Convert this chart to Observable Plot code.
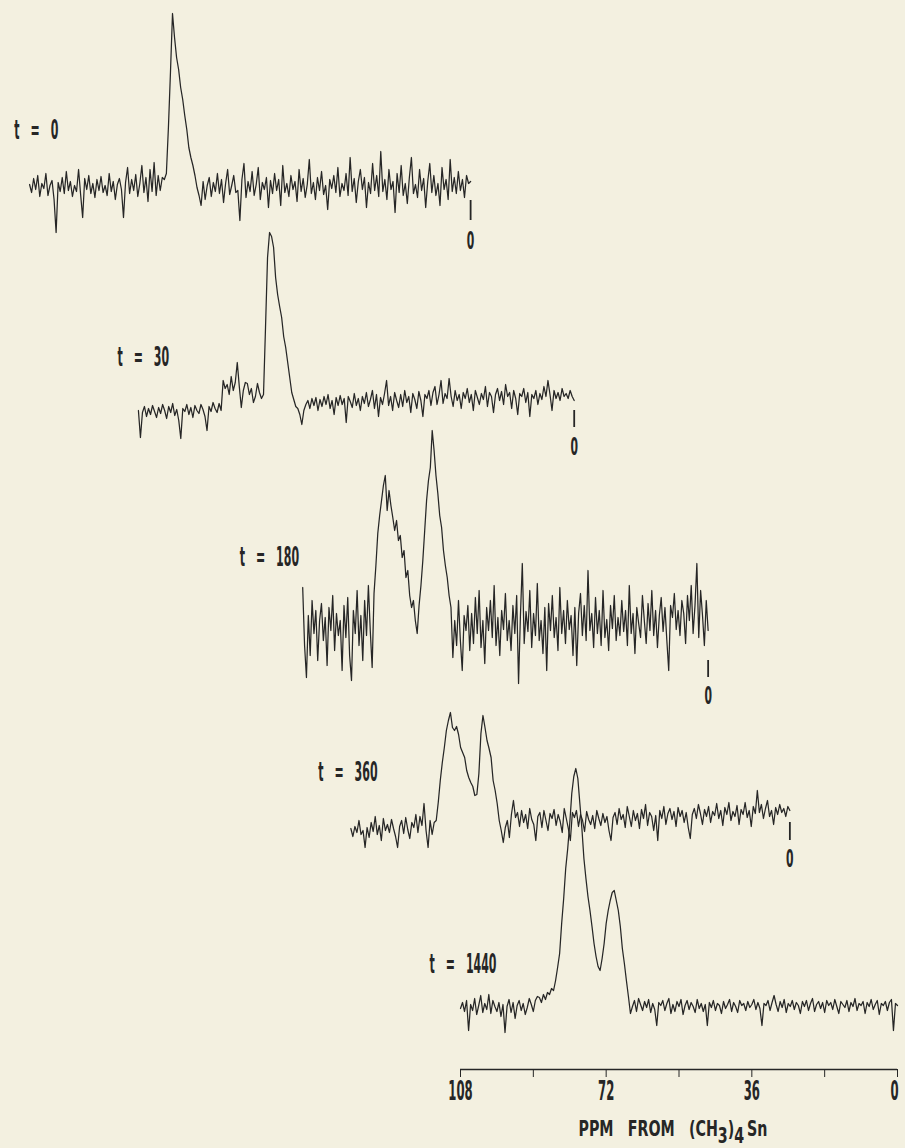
<!DOCTYPE html>
<html>
<head>
<meta charset="utf-8">
<script src="https://cdn.jsdelivr.net/npm/d3@7"></script>
<script src="https://cdn.jsdelivr.net/npm/@observablehq/plot@0.6"></script>
<style>
  html, body { margin: 0; padding: 0; background: #f3f0e0; }
  #chart svg { display: block; }
</style>
</head>
<body>
<div id="chart"></div>
<script>
// ---------------- DATA ----------------
// Spectrum labels (reaction time, minutes)
const timeLabels = ["t\u2003=\u20030", "t\u2003=\u200330", "t\u2003=\u2003180", "t\u2003=\u2003360", "t\u2003=\u20031440"];

// Intensities sampled every 0.5 ppm from 108 ppm down to 0 ppm (arbitrary units, baseline = 0)
const spec0 = [
  3,-5,9,-2,12,-9,4,-1,14,-8,
  2,7,-12,-45,5,-4,10,-6,16,-3,
  6,-9,2,-4,18,-7,-30,9,-2,12,
  -6,4,-10,8,-3,11,-5,2,-8,14,
  -4,6,-12,3,9,-2,-30,5,20,-6,
  8,-3,13,-9,4,22,-5,10,-14,18,
  -4,25,-8,12,-3,10,8,14,60,115,
  174,150,130,118,100,88,72,58,40,30,
  22,12,0,-8,-18,6,-12,2,10,-9,
  5,-4,14,-6,8,-15,4,18,-7,2,
  12,-5,-3,-33,8,24,-10,6,-4,16,
  -8,3,20,-12,5,-2,10,-20,7,-6,
  14,-3,8,-18,22,-5,4,-9,12,-2,
  6,-14,18,-4,9,-10,3,28,-6,5,
  -12,10,-3,16,-7,2,-22,8,-1,12,
  -5,20,-9,4,-3,14,-8,30,-4,9,
  -15,6,18,-2,10,-20,5,-6,24,-3,
  12,-9,36,-4,8,-12,18,-2,6,-25,
  14,-5,22,-8,4,-16,10,30,-6,3,
  -10,18,-3,9,-20,6,24,-5,12,-8,
  4,-18,20,-2,8,-12,28,-4,10,-6,
  16,-3,8,-10,12,4,6
];
const spec30 = [
  -8,-35,-10,-4,-14,-6,-12,-3,-9,-15,
  -5,-11,-2,-8,-16,-4,-10,-1,-13,-7,
  -18,-36,-6,-9,-2,-12,-5,-15,-3,-8,
  -11,-2,-7,-14,-28,-4,-9,0,-6,-10,
  -1,-8,22,14,18,8,26,12,20,40,
  16,-5,12,20,19,8,14,0,6,19,
  10,4,8,75,145,170,166,155,125,108,
  96,85,66,55,40,25,10,3,-4,-6,
  -12,-22,-8,-2,2,-6,4,-3,5,-8,
  3,-4,6,-2,8,-6,2,-12,5,-3,
  7,-2,4,-20,6,1,-5,9,-3,4,
  -8,6,-1,10,-4,3,12,-6,8,-14,
  5,-2,9,22,-3,6,-8,10,2,-5,
  8,-4,12,0,6,-10,9,3,-6,11,
  2,-14,8,4,12,-3,10,16,-2,8,
  22,-1,9,4,24,6,-4,12,2,8,
  -6,10,4,14,0,8,-8,12,5,-2,
  9,3,16,-4,10,6,-10,8,14,2,
  11,-2,18,6,10,-6,12,4,-12,9,
  6,14,0,10,-14,8,4,12,-2,9,
  3,16,6,22,8,-8,12,4,10,2,
  14,6,9,4,12,6,2
];
const spec180 = [
  38,-20,-52,10,-30,25,-8,15,-35,5,
  22,-15,8,-40,18,-5,30,-25,12,-10,
  5,-45,20,-12,28,-30,-55,15,-8,35,
  -20,10,-35,25,-10,40,-5,-42,32,60,
  92,110,125,140,150,115,135,120,108,95,
  105,85,90,68,75,48,55,30,18,25,
  5,-8,20,40,65,95,125,145,158,195,
  175,150,132,110,98,75,60,48,30,18,
  -32,5,-20,25,-15,-45,10,-5,20,-25,
  12,-18,28,-8,35,-22,5,-38,18,-5,
  25,-12,40,-20,8,-30,15,-4,32,-15,
  5,-25,20,-8,30,-58,10,62,-18,14,
  -6,35,-22,12,-10,42,-15,5,-28,18,
  -45,22,-5,30,-12,8,-25,38,-8,15,
  -18,25,-4,10,-30,18,-40,12,32,-10,
  20,-15,55,-5,12,-22,28,-8,15,-20,
  35,-12,6,-25,20,-3,30,-15,8,-10,
  25,-6,15,-20,40,-8,12,-28,18,2,
  -12,30,5,-18,22,-5,35,-10,15,-22,
  10,28,-6,18,-15,-45,20,8,32,-4,
  15,-10,25,12,-18,30,5,40,-8,20,
  62,-12,35,10,-20,25,-5
];
const spec360 = [
  -6,-14,-4,-10,2,-12,-8,-25,-5,-15,
  0,-9,6,-12,-3,-18,4,-8,-2,-10,
  3,-6,-14,-25,-4,2,-11,5,-7,-16,
  0,-5,8,-10,6,-3,19,-8,-25,2,
  -12,0,2,20,42,60,75,92,102,110,
  95,92,96,88,75,70,65,52,45,40,
  36,27,28,49,89,107,95,82,74,65,
  42,32,19,2,-8,-20,-5,2,-15,8,
  22,5,10,-4,12,0,8,-6,14,3,
  -2,-18,6,10,-5,12,2,-8,9,4,
  13,-3,8,1,-10,14,4,-6,-18,10,
  5,12,-4,8,2,-9,11,3,-2,7,
  -6,12,4,-3,9,0,6,-8,-18,5,
  10,-2,14,3,8,-5,16,6,-4,12,
  2,9,-6,13,4,18,-3,10,6,-8,
  7,-18,12,4,16,-2,9,14,3,11,
  -4,15,6,12,0,10,-5,-16,8,14,
  4,18,9,-2,13,6,16,0,11,7,
  19,4,12,-3,15,8,20,2,11,6,
  17,-2,13,8,20,5,12,-4,16,9,
  32,10,18,4,14,22,6,12,-2,15,
  8,18,10,14,6,16,12
];
const spec1440 = [
  0,6,-3,8,-22,4,-2,10,-6,3,
  13,-4,5,-1,14,-5,8,2,-3,6,
  -8,4,-24,2,9,-4,6,-10,3,8,
  -2,5,-6,1,10,4,-3,8,12,11,
  6,14,9,16,14,20,18,28,41,55,
  85,110,140,160,185,215,232,240,230,205,
  180,150,130,112,98,82,65,52,42,38,
  50,65,85,98,108,116,118,108,98,82,
  60,45,28,12,-5,2,8,-3,10,4,
  -2,7,1,9,-4,5,-1,-17,6,3,
  8,-2,5,10,-5,4,-3,7,2,9,
  -6,3,8,-1,6,2,-4,9,0,5,
  -3,4,-17,6,1,8,-2,5,3,-5,
  7,0,4,9,-3,6,2,-4,8,3,
  5,-2,7,1,4,9,-1,6,0,-17,
  5,3,8,-2,6,13,4,-3,7,1,
  9,-4,5,2,8,-1,6,3,-5,7,
  2,8,-2,5,10,-3,4,7,0,6,
  -4,8,3,6,-1,9,2,-5,7,4,
  1,8,-3,6,2,10,-2,5,3,7,
  -5,6,2,9,-1,4,8,-6,5,3,
  7,-2,6,9,-22,5,3
];
const spectra = [spec0, spec30, spec180, spec360, spec1440];

// Axis
const ppmHigh = 108, ppmLow = 0;
const axisTicks = [108, 90, 72, 54, 36, 18, 0];
const axisTickLabels = [108, 72, 36, 0];
const endMarkLabel = "0";
const axisTitleParts = ["PPM\u2002\u2002FROM\u2002\u2002(CH", "3", ")", "4", "\u2009Sn"];
const axisTitle = axisTitleParts.join("");

// ---------------- LAYOUT (stack offsets, in plot units) ----------------
const traceXStart = [214.5, 187.6, 147.0, 135.1, 108];   // where each trace's 108 ppm sits
const traceXEnd   = [105.5, 79.9, 46.8, 26.6, 0];        // where each trace's 0 ppm sits
const traceBase   = [882, 667, 444, 247, 61];            // baseline offsets
const labelX      = [207.4, 180.0, 147.9, 128.5, 99.1];
const labelY      = [939, 712, 512, 297, 105];
const markTop     = [-13, -8, -35, 0];
const markBottom  = [-33, -25, -52, -18];
const markLabelY  = [-53, -44, -70, -36];

// ---------------- BUILD ----------------
const W = 905, H = 1148, axisPx = 1069, x108Px = 460, x0Px = 897;
const pxPerPpm = (x0Px - x108Px) / (ppmHigh - ppmLow);

const points = [];
spectra.forEach((vals, j) => {
  const n = vals.length;
  vals.forEach((v, i) => {
    points.push({
      trace: j,
      x: traceXStart[j] + (traceXEnd[j] - traceXStart[j]) * i / (n - 1),
      y: traceBase[j] + v
    });
  });
});
const marks = markTop.map((t, j) => ({
  x: traceXEnd[j], y1: traceBase[j] + t, y2: traceBase[j] + markBottom[j], ly: traceBase[j] + markLabelY[j]
}));
const labels = timeLabels.map((t, j) => ({text: t, x: labelX[j], y: labelY[j]}));

const ink = "#262626";
const font = "'Liberation Sans Narrow', 'DejaVu Sans Condensed', 'DejaVu Sans', sans-serif";

const chart = Plot.plot({
  width: W,
  height: H,
  marginLeft: 0, marginRight: 0, marginTop: 0, marginBottom: H - axisPx,
  x: {domain: [ppmHigh + x108Px / pxPerPpm, ppmHigh - (W - x108Px) / pxPerPpm]},
  y: {domain: [0, axisPx], axis: null},
  style: {background: "#f3f0e0", color: ink, fontFamily: font, fontWeight: "bold", fontSize: "22px"},
  marks: [
    Plot.line(points, {x: "x", y: "y", z: "trace", stroke: ink, strokeWidth: 1.25, strokeLinejoin: "round"}),
    Plot.ruleX(marks, {x: "x", y1: "y1", y2: "y2", stroke: ink, strokeWidth: 1.8}),
    Plot.text(marks, {x: "x", y: "ly", text: () => endMarkLabel, fill: ink, fontSize: 25, fontWeight: "bold"}),
    Plot.text(labels, {x: "x", y: "y", text: "text", textAnchor: "end", fill: ink, fontSize: 26, fontWeight: "bold"}),
    Plot.ruleY([0], {x1: ppmHigh, x2: ppmLow, stroke: ink, strokeWidth: 1.6}),
    Plot.axisX(axisTicks, {
      anchor: "bottom", label: null, tickSize: 8, tickPadding: 3,
      tickFormat: d => axisTickLabels.includes(d) ? String(d) : "",
      fontSize: 27, fontWeight: "bold", stroke: ink, fill: ink
    }),
    Plot.text([axisTitle], {x: (ppmHigh + ppmLow) / 2 + 1.5, y: -59, fill: ink, fontSize: 22, fontWeight: "bold"})
  ]
});

document.getElementById("chart").appendChild(chart);

// Axis title: real lowered subscripts
d3.select(chart).selectAll("text").filter(function() { return this.textContent === axisTitle; })
  .attr("class", "axis-title")
  .each(function() {
    const t = d3.select(this);
    t.text(null);
    const shifts = [0, 7, -7, 7, -7];
    axisTitleParts.forEach((p, i) => t.append("tspan").attr("dy", shifts[i]).text(p));
  });

// The original lettering is a very condensed gothic: squeeze each text horizontally about its anchor
d3.select(chart).selectAll("text").each(function() {
  const txt = this.textContent;
  if (!txt) return;
  const f = this.classList.contains("axis-title") ? 0.72 : (txt.startsWith("t") ? 0.47 : 0.48);
  const tr = this.getAttribute("transform");
  if (tr && tr.includes("translate")) {
    this.setAttribute("transform", tr + ` scale(${f},1)`);
  } else {
    const x = +(this.getAttribute("x") || 0);
    this.setAttribute("transform", `translate(${x},0) scale(${f},1) translate(${-x},0)` + (tr ? " " + tr : ""));
  }
});
// keep the last axis label inside the page edge
d3.select(chart).selectAll("g[aria-label='x-axis tick label'] text")
  .filter(function() { return this.textContent === String(ppmLow); })
  .attr("dx", -6);
</script>
</body>
</html>
